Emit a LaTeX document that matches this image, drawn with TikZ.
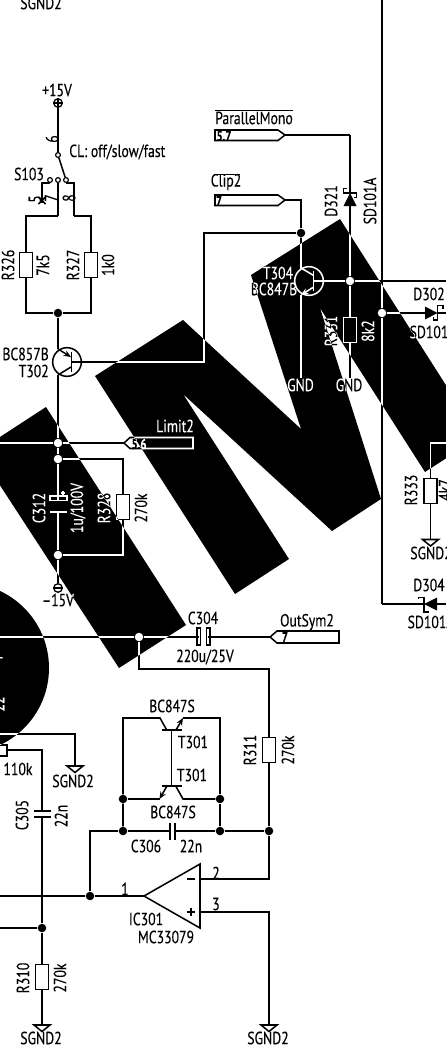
\documentclass[tikz,border=0pt]{standalone}
\usepackage{fontspec}
\usetikzlibrary{arrows.meta}
\newfontfamily\dinfont[FakeStretch=0.78,FakeBold=0.2]{PT Sans}
\newcommand{\sgndsym}[2]{\draw [wire] ({#1-8},#2) -- ({#1+8},#2) -- (#1,{#2+6.5}) -- cycle ;}
\tikzset{
  wire/.style={line width=1.15pt},
  lbl/.style={inner sep=0pt,font=\dinfont\fontsize{13.2}{13.2}\selectfont},
  lblv/.style={lbl,rotate=90},
  tagtxt/.style={inner sep=0pt,font=\dinfont\bfseries\fontsize{10.5}{10.5}\selectfont},
  resv/.style={draw,line width=1.15pt,inner sep=0pt,minimum width=9.5pt,minimum height=18.5pt},
  dotj/.style={circle,fill=black,inner sep=0pt,minimum size=6.4pt},
  contact/.style={circle,draw,fill=white,line width=0.9pt,inner sep=0pt,minimum size=3.6pt},
  railc/.style={circle,draw,fill=white,line width=1pt,inner sep=0pt,minimum size=6.4pt},
  trcirc/.style={circle,draw,line width=1.15pt,inner sep=0pt,minimum size=21.5pt},
  emit/.style={wire,-{Stealth[length=5.5pt,width=4.5pt]}}
}

\begin{document}
\begin{tikzpicture}[x=0.75pt,y=0.75pt,yscale=-1,xscale=1]
\useasboundingbox (0,0) rectangle (446,1056);
\fill [white] (0,0) rectangle (446,1056);

%Junctions
\node [dotj] (jSup) at (58,313) {};
\node [dotj] (jLim) at (58,443) {};
\node [dotj] (jRtop) at (58,459) {};
\node [dotj] (jRbot) at (58,555) {};
\node [dotj] (jOut) at (139,637) {};
\node [dotj] (jClip) at (301,233) {};
\node [dotj] (jBase) at (350,281) {};
\node [dotj] (jD302) at (382,313) {};
\node [dotj] (jLoopL) at (123,799) {};
\node [dotj] (jLoopR) at (220,799) {};
\node [dotj] (jCapL) at (123,831) {};
\node [dotj] (jCapR) at (220,831) {};
\node [dotj] (jFb) at (269,831) {};
\node [dotj] (jOp) at (90,896) {};
\node [dotj] (jC305) at (42,928) {};

%Supply and switch
\node [railc] (railP) at (58,103) {};
\draw [wire] (railP.west) -- (railP.east) (railP.north) -- (railP.south) ;
\node [contact] (swCom) at (58,155) {};
\node [contact] (swL) at (50,180) {};
\node [contact] (swM) at (58,180) {};
\node [contact] (swR) at (66,180) {};
\coordinate (swLa) at (42,183);
\coordinate (swLb) at (42,203);
\coordinate (swRa) at (74,183);
\coordinate (swRb) at (74,216);
\coordinate (swMb) at (58,216);
\draw [wire] (railP) -- (swCom) ;
\draw [wire] (swCom) -- (swR) ;
\draw [wire] (swL) |- (swLa) -- (swLb) ;
\draw [wire] (38.5,197) -- (45.5,204) (45.5,197) -- (38.5,204) ;
\draw [wire] (swM) -- (swMb) ;
\draw [wire] (swR) |- (swRa) -- (swRb) ;

%Resistors
\node [resv] (R326) at (26,265) {};
\node [resv] (R327) at (91,265) {};
\node [resv] (R328) at (123,507) {};
\node [resv] (R331) at (350,330) {};
\node [resv] (R333) at (430.5,491) {};
\node [resv] (R311) at (269,750) {};
\node [resv] (R310) at (42,977) {};
\draw [wire] (swMb) -| (R326.north) ;
\draw [wire] (swRb) -| (R327.north) ;
\draw [wire] (R326.south) |- (jSup) ;
\draw [wire] (R327.south) |- (jSup) ;

%Transistor T302
\node [trcirc] (T302) at (67,362) {};
\coordinate (T302e) at (58,349);
\coordinate (T302c) at (58,375);
\coordinate (T302b) at (71.5,362);
\draw [wire] (71.5,352) -- (71.5,372) ;
\draw [wire] (jSup) -- (T302e) ;
\draw [emit] (T302e) -- (71,357) ;
\draw [wire] (71,367) -- (T302c) ;
\draw [wire] (T302c) -- (jLim) ;
\draw [wire] (jLim) -- (jRtop) ;
\coordinate (wireB) at (204,362);
\draw [wire] (T302b) -- (wireB) |- (jClip) ;

%Limit2 branch
\coordinate (tagLim) at (124,443);
\coordinate (leftLim) at (0,443);
\draw [wire] (leftLim) -- (jLim) -- (tagLim) ;
\draw [wire] (tagLim) -- (130,437.5) -- (193,437.5) -- (193,448.5) -- (130,448.5) -- cycle ;
\draw [wire] (jRtop) -| (R328.north) ;
\draw [wire] (R328.south) |- (jRbot) ;

%C312
\coordinate (c312t) at (58,500);
\coordinate (c312b) at (58,512);
\draw [wire] (jRtop) -- (c312t) ;
\draw [wire] (c312b) -- (jRbot) ;
\draw [wire] (50,496) rectangle (67,500.5) ;
\draw [wire] (50,512) -- (67,512) ;
\draw [wire] (63,491) -- (63,495) (61,493) -- (65,493) ;
\node [railc] (railM) at (58,588) {};
\draw [wire] (railM.west) -- (railM.east) ;
\draw [wire] (jRbot) -- (railM) ;

%Output line and C304
\coordinate (leftOut) at (0,637);
\coordinate (c304l) at (199,637);
\coordinate (c304r) at (208,637);
\coordinate (tagOut) at (270,637);
\draw [wire] (leftOut) -- (jOut) -- (c304l) ;
\draw [wire] (197,628) rectangle (200.5,645) ;
\draw [wire] (206.5,628) rectangle (210,645) ;
\draw [wire] (c304r) -- (tagOut) ;
\draw [wire] (tagOut) -- (277,631) -- (339,631) -- (339,643) -- (277,643) -- cycle ;
\coordinate (fbA) at (139,669);
\coordinate (fbB) at (269,669);
\draw [wire] (jOut) -- (fbA) -- (fbB) -- (R311.north) ;
\draw [wire] (R311.south) -- (jFb) ;

%Transistor pair T301
\coordinate (loopTL) at (123,718);
\coordinate (loopTR) at (220,718);
\draw [wire] (jCapL) -- (jLoopL) -- (loopTL) -- (160,718) -- (166.7,730) ;
\draw [wire] (jCapR) -- (jLoopR) -- (loopTR) -- (183,718) ;
\draw [emit] (176,730) -- (183,718) ;
\draw [wire] (161.7,730) -- (181.7,730) ;
\draw [wire] (171.7,730) -- (171.7,786) ;
\draw [wire] (161.7,786) -- (181.7,786) ;
\draw [emit] (166.7,786.5) -- (159.5,799) ;
\draw [wire] (159.5,799) -- (jLoopL) ;
\draw [wire] (176,786.5) -- (183,799) -- (jLoopR) ;

%C306 feedback
\coordinate (c306l) at (170,831);
\coordinate (c306r) at (175,831);
\draw [wire] (jOp) |- (jCapL) -- (c306l) ;
\draw [wire] (c306r) -- (jCapR) -- (jFb) ;
\draw [wire] (170,823) -- (170,840) (175,823) -- (175,840) ;

%Opamp IC301
\coordinate (opOut) at (144,896);
\coordinate (opMi) at (200,879);
\coordinate (opPl) at (200,912);
\draw [wire] (opOut) -- (200,864) -- (200,928) -- cycle ;
\draw [wire] (187,879) -- (195,879) (187,912) -- (195,912) (191,908) -- (191,916) ;
\coordinate (leftOp) at (0,896);
\coordinate (cornerMi) at (269,879);
\coordinate (cornerPl) at (269,912);
\coordinate (gndOp) at (269,1025);
\draw [wire] (leftOp) -- (jOp) -- (opOut) ;
\draw [wire] (jFb) -- (cornerMi) -- (opMi) ;
\draw [wire] (opPl) -- (cornerPl) -- (gndOp) ;
\sgndsym{269}{1025}

%C305 branch
\coordinate (res110) at (7,750);
\coordinate (c305top) at (42,750);
\coordinate (c305a) at (42,811);
\coordinate (c305b) at (42,817);
\coordinate (leftC305) at (0,928);
\coordinate (gnd310) at (42,1025);
\draw [wire] (0,745) -- (7,745) -- (7,756) -- (0,756) ;
\draw [wire] (res110) -- (c305top) -- (c305a) ;
\draw [wire] (34,811) -- (51,811) (34,817) -- (51,817) ;
\draw [wire] (c305b) -- (jC305) -- (R310.north) ;
\draw [wire] (leftC305) -- (jC305) ;
\draw [wire] (R310.south) -- (gnd310) ;
\sgndsym{42}{1025}
\coordinate (leftGnd) at (0,734);
\coordinate (cornerGnd) at (75,734);
\coordinate (gndTop) at (75,766);
\draw [wire] (leftGnd) -- (cornerGnd) -- (gndTop) ;
\sgndsym{75}{766}

%Tags at the top
\coordinate (tagPar) at (285,135);
\coordinate (cornerPar) at (350,135);
\coordinate (tagClip) at (285,200);
\coordinate (cornerClip) at (301,200);
\draw [wire] (tagPar) -- (278,130) -- (215,130) -- (215,140.5) -- (278,140.5) -- cycle ;
\draw [wire] (tagClip) -- (278,195) -- (215,195) -- (215,205.5) -- (278,205.5) -- cycle ;
\draw [wire] (tagPar) -- (cornerPar) ;
\draw [wire] (tagClip) -- (cornerClip) -- (jClip) ;

%Diode D321
\coordinate (d321a) at (350,193);
\coordinate (d321b) at (350,206);
\draw [wire] (cornerPar) -- (d321a) ;
\fill (d321a) -- (356.5,206) -- (343.5,206) -- cycle ;
\draw [wire] (346.5,188.5) -- (343.5,188.5) -- (343.5,193) -- (356.5,193) -- (356.5,197.5) -- (353.5,197.5) ;
\draw [wire] (d321b) -- (jBase) -- (R331.north) ;
\coordinate (gndB) at (350,378);
\draw [wire] (R331.south) -- (gndB) ;

%Transistor T304
\node [trcirc] (T304) at (309,281) {};
\coordinate (T304c) at (301,268);
\coordinate (T304e) at (301,295);
\coordinate (T304b) at (313.7,281);
\coordinate (gndA) at (301,378);
\draw [wire] (313.7,271) -- (313.7,291) ;
\draw [wire] (jClip) -- (T304c) -- (313.7,275.5) ;
\draw [emit] (313.7,287) -- (T304e) ;
\draw [wire] (T304e) -- (gndA) ;
\draw [wire] (T304b) -- (jBase) ;

%Right hand rail
\coordinate (railTop) at (382,0);
\coordinate (railMid) at (382,281);
\coordinate (railBot) at (382,604);
\coordinate (rightMid) at (446,281);
\draw [wire] (jBase) -- (railMid) -- (rightMid) ;
\draw [wire] (railTop) -- (railMid) -- (jD302) -- (railBot) ;

%Diode D302
\coordinate (d302a) at (425,313);
\coordinate (d302k) at (437.5,313);
\coordinate (rightD302) at (446,313);
\draw [wire] (jD302) -- (d302a) ;
\fill (d302k) -- (425,319.5) -- (425,306.5) -- cycle ;
\draw [wire] (443,308.5) -- (443,305.5) -- (437.5,305.5) -- (437.5,320) -- (433.5,320) -- (433.5,317) ;
\draw [wire] (d302k) -- (rightD302) ;

%R333
\coordinate (rightR333) at (446,443);
\coordinate (cornerR333) at (430.5,443);
\coordinate (gnd333) at (430.5,539.5);
\draw [wire] (rightR333) -- (cornerR333) -- (R333.north) ;
\draw [wire] (R333.south) -- (gnd333) ;
\sgndsym{430.5}{539.5}

%Diode D304
\coordinate (d304a) at (424,604);
\coordinate (rightD304) at (446,604);
\draw [wire] (railBot) -- (d304a) ;
\fill (d304a) -- (437,597.5) -- (437,610.5) -- cycle ;
\draw [wire] (418.5,598.5) -- (418.5,597.5) -- (424,597.5) -- (424,612) -- (429,612) ;
\draw [wire] (437,604) -- (rightD304) ;

% Text Node
\draw (41,3) node [lbl] (lblGndTop) {SGND2};
\draw (57,90) node [lbl] (lblP15) {+15V};
\draw (52,139) node [lblv] (lblPin6) {6};
\draw (69,152) node [lbl,anchor=west] (lblCL) {CL: off/slow/fast};
\draw (29,174) node [lbl] (lblS103) {S103};
\draw (35,199) node [lblv] (lblPin5) {5};
\draw (51,198) node [lblv] (lblPin7) {7};
\draw (69,198) node [lblv] (lblPin8) {8};
\draw (8,265) node [lblv] (lblR326) {R326};
\draw (43,265) node [lblv] (lblV326) {7k5};
\draw (73,265) node [lblv] (lblR327) {R327};
\draw (108,265) node [lblv] (lblV327) {1k0};
\draw (49,354) node [lbl,anchor=east] (lblBC857) {BC857B};
\draw (49,371) node [lbl,anchor=east] (lblT302) {T302};
\draw (175,426) node [lbl] (lblLimit) {Limit2};
\draw (139,444) node [tagtxt] (txtLimit) {5.6};
\draw (39,508) node [lblv] (lblC312) {C312};
\draw (78,508) node [lblv] (lblV312) {1u/100V};
\draw (104,508) node [lblv] (lblR328) {R328};
\draw (141,508) node [lblv] (lblV328) {270k};
\draw (58,600) node [lbl] (lblM15) {–15V};
\draw (203,618) node [lbl] (lblC304) {C304};
\draw (205,657) node [lbl] (lblV304) {220u/25V};
\draw (307,622) node [lbl] (lblOutSym) {OutSym2};
\draw (285,637) node [tagtxt] (txtOut) {7};
\draw (-2,657) node [lblv] (lblCut1) {r};
\draw (-2,704) node [lblv] (lblCut2) {22};
\draw (18,769) node [lbl] (lblV110) {110k};
\draw (73,781) node [lbl] (lblGndA) {SGND2};
\draw (172,706) node [lbl] (lblBCa) {BC847S};
\draw (193,742) node [lbl] (lblT301a) {T301};
\draw (192,775) node [lbl] (lblT301b) {T301};
\draw (173,812) node [lbl] (lblBCb) {BC847S};
\draw (146,846) node [lbl] (lblC306) {C306};
\draw (191,846) node [lbl] (lblV306) {22n};
\draw (250,750) node [lblv] (lblR311) {R311};
\draw (288,750) node [lblv] (lblV311) {270k};
\draw (22,815) node [lblv] (lblC305) {C305};
\draw (61,816) node [lblv] (lblV305) {22n};
\draw (23,978) node [lblv] (lblR310) {R310};
\draw (60,978) node [lblv] (lblV310) {270k};
\draw (125,889) node [lbl] (lblPin1) {1};
\draw (216,873) node [lbl] (lblPin2) {2};
\draw (216,904) node [lbl] (lblPin3) {3};
\draw (146,919) node [lbl] (lblIC) {IC301};
\draw (166,937) node [lbl] (lblMC) {MC33079};
\draw (41,1038) node [lbl] (lblGndB) {SGND2};
\draw (268,1038) node [lbl] (lblGndC) {SGND2};
\draw (254,118) node [lbl] (lblPar) {ParallelMono};
\draw [wire] (214.5,110.5) -- (293,110.5) ;
\draw (224,136) node [tagtxt] (txtPar) {5.7};
\draw (226,182) node [lbl] (lblClip) {Clip2};
\draw [wire] (213.5,174.5) -- (239.5,174.5) ;
\draw (219,201) node [tagtxt] (txtClip) {7};
\draw (331,201) node [lblv] (lblD321) {D321};
\draw (370,201) node [lblv] (lblSD321) {SD101A};
\draw (278,273) node [lbl] (lblT304) {T304};
\draw (274,289) node [lbl] (lblBC847) {BC847B};
\draw (331,331) node [lblv] (lblR331) {R331};
\draw (368,331) node [lblv] (lblV331) {8k2};
\draw (300.5,385) node [lbl] (lblGnd1) {GND};
\draw (349,385) node [lbl] (lblGnd2) {GND};
\draw (429,294) node [lbl] (lblD302) {D302};
\draw (433,332) node [lbl] (lblSD302) {SD101A};
\draw (411,490) node [lblv] (lblR333) {R333};
\draw (445,490) node [lblv] (lblV333) {4k7};
\draw (431,553) node [lbl] (lblGnd333) {SGND2};
\draw (429,585) node [lbl] (lblD304) {D304};
\draw (431,622) node [lbl] (lblSD304) {SD101A};

%Watermark, inverts what is below it
\begin{scope}[blend mode=difference]
\fill [white] (95,376) -- (183,320) -- (301,429) -- (251,275) -- (340,219) -- (479,437) -- (425,472) -- (320,308) -- (381,499) -- (332,531) -- (183,394) -- (289,559) -- (235,594) -- cycle ;
\fill [white] (-10,443.5) -- (46,407) -- (186,625) -- (119,668) -- (-10,470) -- cycle ;
\fill [white] (-36,668) circle (85) ;
\end{scope}
\end{tikzpicture}
\end{document}
